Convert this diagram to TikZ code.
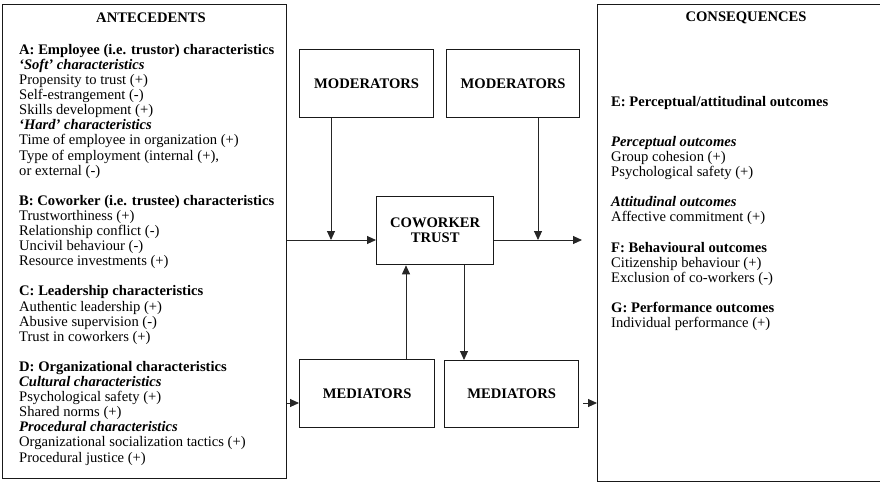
\documentclass[tikz,border=0pt]{standalone}
\usepackage{fontspec}
\setmainfont{Liberation Serif}
\usetikzlibrary{arrows.meta}
\begin{document}
\begin{tikzpicture}[x=1pt,y=-1pt,
  box/.style={draw=black!90, line width=1.3pt, inner sep=0pt, anchor=north west,
    font=\fontsize{14.6}{15.1}\selectfont\bfseries, align=center},
  title/.style={font=\fontsize{14.6}{15.1}\selectfont\bfseries, inner sep=0pt},
  body/.style={font=\fontsize{14.6}{15.1}\selectfont, align=left, anchor=north west, inner sep=0pt},
  link/.style={draw=black!85, line width=0.9pt, -{Triangle[length=9pt,width=8pt]}},
]
\useasboundingbox (0,0) rectangle (880,482);
\clip (0,0) rectangle (880,482);

% outer columns
\node[box, minimum width=284pt, minimum height=474pt] (ante) at (2,4) {};
\node[box, minimum width=300pt, minimum height=477pt] (cons) at (597,4) {};

% central boxes
\node[box, minimum width=134pt, minimum height=68pt] (mod1) at (299,49) {MODERATORS};
\node[box, minimum width=133pt, minimum height=68pt] (mod2) at (446,49) {MODERATORS};
\node[box, minimum width=117pt, minimum height=68pt] (trust) at (376,196) {COWORKER\\TRUST};
\node[box, minimum width=135pt, minimum height=68pt] (med1) at (299,359) {MEDIATORS};
\node[box, minimum width=134pt, minimum height=67pt] (med2) at (444,360) {MEDIATORS};

% column headings
\node[title] (anteTitle) at (151,18) {ANTECEDENTS};
\node[title] (consTitle) at (746,18) {CONSEQUENCES};

% antecedent list
\node[body] (anteText) at (19,44) {%
\textbf{A: Employee (i.e. trustor) characteristics}\\
\textbf{\textit{‘Soft’ characteristics}}\\
Propensity to trust (+)\\
Self-estrangement (-)\\
Skills development (+)\\
\textbf{\textit{‘Hard’ characteristics}}\\
Time of employee in organization (+)\\
Type of employment (internal (+),\\
or external (-)\\[15.1pt]
\textbf{B: Coworker (i.e. trustee) characteristics}\\
Trustworthiness (+)\\
Relationship conflict (-)\\
Uncivil behaviour (-)\\
Resource investments (+)\\[15.1pt]
\textbf{C: Leadership characteristics}\\
Authentic leadership (+)\\
Abusive supervision (-)\\
Trust in coworkers (+)\\[15.1pt]
\textbf{D: Organizational characteristics}\\
\textbf{\textit{Cultural characteristics}}\\
Psychological safety (+)\\
Shared norms (+)\\
\textbf{\textit{Procedural characteristics}}\\
Organizational socialization tactics (+)\\
Procedural justice (+)};

% consequence list
\node[body] (consText) at (611,96) {%
\textbf{E: Perceptual/attitudinal outcomes}\\[24.9pt]
\textbf{\textit{Perceptual outcomes}}\\
Group cohesion (+)\\
Psychological safety (+)\\[15.1pt]
\textbf{\textit{Attitudinal outcomes}}\\
Affective commitment (+)\\[15.1pt]
\textbf{F: Behavioural outcomes}\\
Citizenship behaviour (+)\\
Exclusion of co-workers (-)\\[15.1pt]
\textbf{G: Performance outcomes}\\
Individual performance (+)};

% reference rows and columns for the connectors
\coordinate (rowTop) at (0,240);
\coordinate (rowLow) at (0,403);
\coordinate (colM1) at (331,0);
\coordinate (colM2) at (538,0);
\coordinate (colUp) at (406,0);
\coordinate (colDown) at (464,0);
\coordinate (outEnd) at (582,240);
\coordinate (medGap) at (583,403);

% connectors
\draw[link] (ante.east |- rowTop) -- (trust.west |- rowTop);
\draw[link] (colM1 |- mod1.south) -- (colM1 |- rowTop);
\draw[link] (trust.east |- rowTop) -- (outEnd);
\draw[link] (colM2 |- mod2.south) -- (colM2 |- rowTop);
\draw[link] (colUp |- med1.north) -- (colUp |- trust.south);
\draw[link] (colDown |- trust.south) -- (colDown |- med2.north);
\draw[link] (ante.east |- rowLow) -- (med1.west |- rowLow);
\draw[link] (medGap) -- (cons.west |- rowLow);
\end{tikzpicture}
\end{document}
